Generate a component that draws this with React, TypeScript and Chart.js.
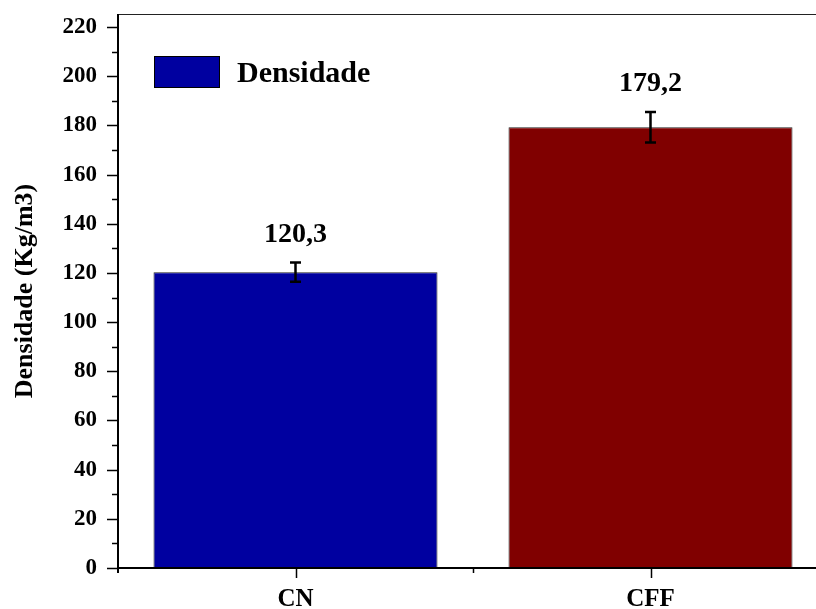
import React, { useEffect, useRef } from "react";
import { Chart, registerables } from "chart.js";

Chart.register(...registerables);

// Sample groups and measured densities (kg/m3) with their standard deviations
const categories = ["CN", "CFF"];
const densities = [120.3, 179.2];
const deviations = [3.9, 6.2];
const barColors = ["#0000A0", "#800000"];
const yTicks = [0, 20, 40, 60, 80, 100, 120, 140, 160, 180, 200, 220];
const seriesName = "Densidade";
const yTitle = "Densidade (Kg/m3)";

const SERIF = "'Liberation Serif', 'Times New Roman', Times, serif";

const formatValue = (v: number) => v.toFixed(1).replace(".", ",");

const decorations = {
  id: "decorations",
  afterDatasetsDraw(chart: any) {
    const { ctx, chartArea: a, scales } = chart;
    const x = scales.x;
    const y = scales.y;
    ctx.save();

    // error bars and value labels
    densities.forEach((v, i) => {
      const cx = x.getPixelForValue(i);
      const top = y.getPixelForValue(v + deviations[i]);
      const bot = y.getPixelForValue(v - deviations[i]);
      ctx.strokeStyle = "#000";
      ctx.lineWidth = 2.5;
      ctx.beginPath();
      ctx.moveTo(cx, top);
      ctx.lineTo(cx, bot);
      ctx.moveTo(cx - 5.5, top);
      ctx.lineTo(cx + 5.5, top);
      ctx.moveTo(cx - 5.5, bot);
      ctx.lineTo(cx + 5.5, bot);
      ctx.stroke();

      ctx.fillStyle = "#000";
      ctx.font = `bold 28px ${SERIF}`;
      ctx.textAlign = "center";
      ctx.textBaseline = "alphabetic";
      ctx.fillText(formatValue(v), cx, top - 21);
    });

    // frame: top border, left and bottom axes
    ctx.strokeStyle = "#222";
    ctx.lineWidth = 1;
    ctx.beginPath();
    ctx.moveTo(a.left, a.top + 0.5);
    ctx.lineTo(a.right, a.top + 0.5);
    ctx.stroke();

    ctx.strokeStyle = "#000";
    ctx.lineWidth = 2;
    ctx.beginPath();
    ctx.moveTo(a.left, a.top);
    ctx.lineTo(a.left, a.bottom + 5);
    ctx.moveTo(a.left - 1, a.bottom);
    ctx.lineTo(a.right, a.bottom);
    ctx.stroke();

    // y ticks: major every 20, minor every 10
    ctx.lineWidth = 1.5;
    ctx.beginPath();
    for (let v = 0; v <= 220; v += 10) {
      const py = Math.round(y.getPixelForValue(v)) + 0.5;
      const len = v % 20 === 0 ? 11 : 6;
      ctx.moveTo(a.left, py);
      ctx.lineTo(a.left - len, py);
    }
    // x ticks: major at categories, minor between them
    categories.forEach((_, i) => {
      const px = Math.round(x.getPixelForValue(i)) + 0.5;
      ctx.moveTo(px, a.bottom);
      ctx.lineTo(px, a.bottom + 10);
      if (i > 0) {
        const mx = Math.round((x.getPixelForValue(i - 1) + x.getPixelForValue(i)) / 2) + 0.5;
        ctx.moveTo(mx, a.bottom);
        ctx.lineTo(mx, a.bottom + 5);
      }
    });
    ctx.stroke();

    // y axis title
    ctx.save();
    ctx.translate(25, (a.top + a.bottom) / 2);
    ctx.rotate(-Math.PI / 2);
    ctx.fillStyle = "#000";
    ctx.font = `bold 26px ${SERIF}`;
    ctx.textAlign = "center";
    ctx.textBaseline = "middle";
    ctx.fillText(yTitle, 0, 0);
    ctx.restore();

    // legend
    ctx.fillStyle = barColors[0];
    ctx.fillRect(154, 56, 66, 32);
    ctx.strokeStyle = "#000";
    ctx.lineWidth = 1;
    ctx.strokeRect(154.5, 56.5, 65, 31);
    ctx.fillStyle = "#000";
    ctx.font = `bold 30px ${SERIF}`;
    ctx.textAlign = "left";
    ctx.textBaseline = "alphabetic";
    ctx.fillText(seriesName, 237, 82);

    ctx.restore();
  },
};

export default function App() {
  const canvasRef = useRef<HTMLCanvasElement | null>(null);

  useEffect(() => {
    const canvas = canvasRef.current;
    if (!canvas) return;
    const chart = new Chart(canvas, {
      type: "bar",
      data: {
        labels: categories,
        datasets: [
          {
            label: seriesName,
            data: densities,
            backgroundColor: barColors,
            borderColor: "#222",
            borderWidth: 1,
            categoryPercentage: 0.8,
            barPercentage: 1,
          },
        ],
      },
      options: {
        responsive: false,
        animation: false,
        devicePixelRatio: 1,
        layout: { padding: { left: 0, top: 14, right: 12, bottom: 0 } },
        plugins: {
          legend: { display: false },
          tooltip: { enabled: false },
        },
        scales: {
          x: {
            type: "category",
            offset: true,
            grid: { display: false, drawTicks: false },
            border: { display: false },
            ticks: {
              color: "#000",
              font: { family: SERIF, size: 25, weight: "bold" },
              padding: 17,
            },
            afterFit: (s: any) => {
              s.height = 41;
              s.paddingLeft = 0;
              s.paddingRight = 0;
            },
          },
          y: {
            type: "linear",
            min: 0,
            max: 225.3,
            grid: { display: false, drawTicks: false },
            border: { display: false },
            afterBuildTicks: (s: any) => {
              s.ticks = yTicks.map((v) => ({ value: v }));
            },
            ticks: {
              color: "#000",
              font: { family: SERIF, size: 23, weight: "bold" },
              padding: 21,
              includeBounds: false,
            },
            afterFit: (s: any) => {
              s.width = 118;
              s.paddingTop = 0;
              s.paddingBottom = 0;
            },
          },
        },
      },
      plugins: [decorations],
    });
    return () => chart.destroy();
  }, []);

  return (
    <div
      style={{
        position: "fixed",
        left: 0,
        top: 0,
        width: 816,
        height: 609,
        overflow: "hidden",
        background: "#fff",
      }}
    >
      <canvas ref={canvasRef} width={840} height={609} style={{ display: "block" }} />
    </div>
  );
}
